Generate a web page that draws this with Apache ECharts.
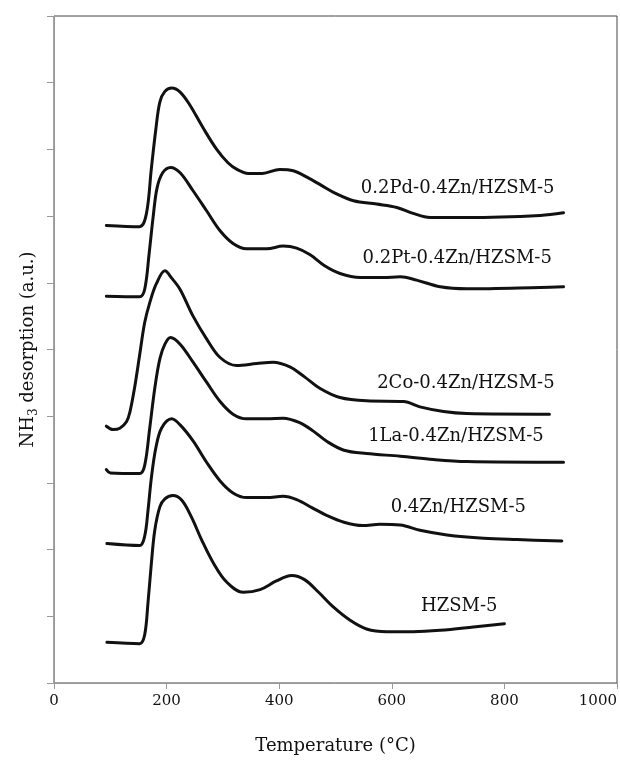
<!DOCTYPE html>
<html>
<head>
<meta charset="utf-8">
<script src="https://cdn.jsdelivr.net/npm/echarts@6/dist/echarts.min.js"></script>
<style>
  html, body { margin: 0; padding: 0; background: #fff; }
  #chart { width: 620px; height: 760px; }
</style>
</head>
<body>
<div id="chart"></div>
<script>
// NH3-TPD curves, [temperature (°C), signal (a.u., stacked offset)]
const pdCurve = [[93,6.86],[152,6.84],[164,7.03],[173,7.72],[181,8.31],[188,8.71],[197,8.87],[209,8.92],[224,8.86],[241,8.67],[265,8.32],[289,8.00],[309,7.80],[325,7.70],[345,7.64],[370,7.64],[401,7.70],[425,7.68],[450,7.58],[475,7.46],[500,7.34],[532,7.23],[573,7.18],[609,7.13],[638,7.04],[668,6.98],[733,6.98],[864,7.01],[905,7.05]];
const ptCurve = [[93,5.80],[152,5.79],[161,5.90],[169,6.44],[176,6.98],[183,7.42],[193,7.65],[207,7.73],[224,7.65],[247,7.38],[271,7.08],[295,6.78],[318,6.59],[342,6.51],[378,6.51],[407,6.55],[431,6.52],[455,6.42],[480,6.26],[508,6.14],[544,6.08],[585,6.08],[615,6.09],[644,6.04],[686,5.94],[733,5.91],[864,5.93],[905,5.94]];
const coCurve = [[93,3.85],[105,3.80],[117,3.82],[129,3.92],[135,4.07],[143,4.42],[152,4.91],[161,5.40],[170,5.70],[182,5.99],[197,6.18],[209,6.07],[224,5.90],[247,5.50],[271,5.16],[295,4.88],[324,4.76],[360,4.79],[389,4.81],[419,4.74],[445,4.59],[472,4.42],[508,4.28],[555,4.23],[621,4.22],[650,4.14],[692,4.07],[733,4.04],[880,4.03]];
const laCurve = [[93,3.20],[100,3.15],[152,3.14],[161,3.26],[170,3.82],[179,4.42],[188,4.86],[197,5.08],[207,5.18],[224,5.08],[247,4.81],[271,4.51],[295,4.22],[318,4.03],[342,3.96],[378,3.96],[407,3.97],[437,3.90],[460,3.78],[485,3.62],[515,3.49],[555,3.44],[615,3.40],[674,3.35],[733,3.32],[905,3.31]];
const znCurve = [[94,2.09],[152,2.06],[161,2.20],[167,2.59],[173,3.08],[181,3.53],[191,3.82],[209,3.96],[224,3.87],[247,3.63],[271,3.31],[295,3.03],[318,2.85],[342,2.78],[378,2.78],[407,2.80],[431,2.75],[458,2.63],[485,2.51],[515,2.41],[548,2.36],[579,2.38],[615,2.37],[650,2.29],[698,2.22],[763,2.17],[822,2.15],[902,2.13]];
const hzsmCurve = [[94,0.61],[152,0.59],[161,0.72],[167,1.21],[173,1.80],[179,2.29],[188,2.64],[197,2.76],[211,2.81],[227,2.74],[244,2.49],[262,2.15],[283,1.80],[307,1.51],[336,1.36],[366,1.40],[395,1.53],[422,1.61],[445,1.55],[470,1.36],[496,1.14],[526,0.94],[555,0.81],[591,0.77],[638,0.77],[686,0.79],[745,0.84],[800,0.89]];

const sampleNames = ['0.2Pd-0.4Zn/HZSM-5', '0.2Pt-0.4Zn/HZSM-5', '2Co-0.4Zn/HZSM-5', '1La-0.4Zn/HZSM-5', '0.4Zn/HZSM-5', 'HZSM-5'];
const xTicks = [0, 200, 400, 600, 800, 1000];

const FONT = 'DejaVu Serif';
const curves = [pdCurve, ptCurve, coCurve, laCurve, znCurve, hzsmCurve];
// where each sample name sits (data coords, left edge / middle)
const labelAt = [[545, 7.42], [548, 6.36], [574, 4.49], [558, 3.70], [598, 2.64], [652, 1.15]];

const chart = echarts.init(document.getElementById('chart'));

const series = curves.map((c, i) => ({
  name: sampleNames[i],
  type: 'line',
  data: c,
  smooth: 0.35,
  symbol: 'none',
  lineStyle: { color: '#111', width: 3, cap: 'round', join: 'round' },
  markPoint: {
    symbol: 'circle',
    symbolSize: 0,
    silent: true,
    data: [{ coord: labelAt[i] }],
    label: {
      show: true,
      position: 'right',
      distance: 0,
      formatter: () => sampleNames[i],
      fontFamily: FONT,
      fontSize: 18,
      color: '#111'
    }
  }
}));

chart.setOption({
  animation: false,
  backgroundColor: '#fff',
  grid: {
    left: 54, right: 3, top: 16, bottom: 68,
    show: true, borderColor: '#444', borderWidth: 1
  },
  xAxis: {
    type: 'value',
    min: 0, max: 1000, interval: 200,
    name: 'Temperature (°C)',
    nameLocation: 'middle',
    nameGap: 54,
    nameTextStyle: { fontFamily: FONT, fontSize: 18, color: '#111' },
    axisLine: { show: true, lineStyle: { color: '#999', width: 1 } },
    axisTick: { show: true, length: 6, lineStyle: { color: '#999' } },
    axisLabel: {
      fontFamily: FONT, fontSize: 15, color: '#111', margin: 11,
      alignMaxLabel: 'right',
      formatter: v => xTicks.includes(v) ? String(v) : ''
    },
    splitLine: { show: false }
  },
  yAxis: {
    type: 'value',
    min: 0, max: 10, interval: 1,
    name: '{n|NH}{s|3}{n| desorption (a.u.)}',
    nameLocation: 'middle',
    nameGap: 14,
    nameTextStyle: {
      color: '#111',
      rich: {
        n: { fontFamily: FONT, fontSize: 18, lineHeight: 24, verticalAlign: 'middle', color: '#111' },
        s: { fontFamily: FONT, fontSize: 12, lineHeight: 12, verticalAlign: 'bottom', color: '#111' }
      }
    },
    axisLine: { show: true, lineStyle: { color: '#999', width: 1 } },
    axisTick: { show: true, length: 7, lineStyle: { color: '#999' } },
    axisLabel: { show: false },
    splitLine: { show: false }
  },
  series
});
</script>
</body>
</html>
